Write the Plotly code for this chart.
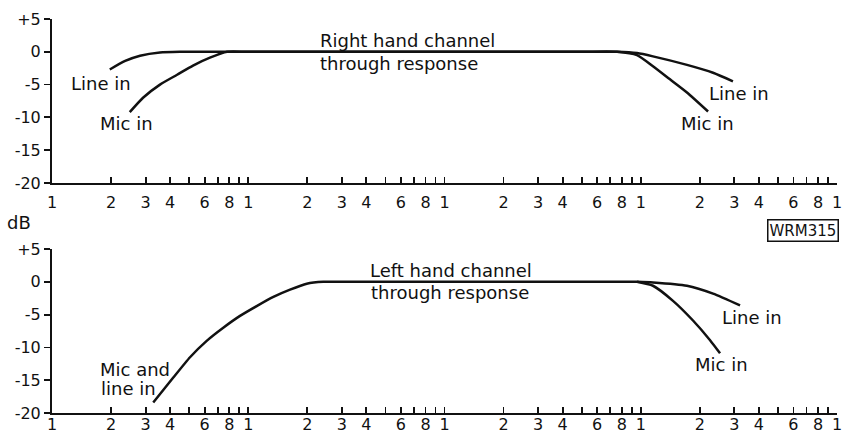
import plotly.graph_objects as go
from plotly.subplots import make_subplots

# ---------------- data (frequency in Hz, level in dB) ----------------
right_line_f = [19.7, 23.6, 28.1, 35.5, 44.9, 60, 100, 1000, 5000, 7570, 9570, 11540, 17200, 23350, 29500]
right_line_db = [-2.7, -1.4, -0.6, -0.1, 0.0, 0.0, 0.0, 0.0, 0.0, 0.0, -0.2, -0.7, -2.0, -3.2, -4.5]

right_mic_f = [24.9, 29.1, 35.5, 43.4, 52.3, 63.8, 78.0, 100, 1000, 5000, 7570, 9570, 11540, 14090, 17200, 22030]
right_mic_db = [-9.2, -7.0, -5.0, -3.5, -2.1, -0.9, 0.0, 0.0, 0.0, 0.0, 0.0, -0.5, -2.2, -4.2, -6.2, -9.1]

left_both_f = [32.8, 41.5, 50.5, 61.4, 74.6, 90.8, 110.4, 134.3, 163.3, 198.6, 241, 293, 1000, 5000, 9570]
left_both_db = [-18.4, -14.6, -11.5, -9.0, -7.0, -5.2, -3.7, -2.3, -1.2, -0.3, 0.0, 0.0, 0.0, 0.0, 0.0]

left_line_f = [9570, 11540, 17200, 23350, 32060]
left_line_db = [0.0, -0.1, -0.6, -1.8, -3.6]

left_mic_f = [9570, 11540, 14600, 18460, 22550, 25350]
left_mic_db = [0.0, -0.6, -2.9, -5.9, -8.9, -10.9]

y_tick_vals = [5, 0, -5, -10, -15, -20]
y_tick_text = ["+5", "0", "-5", "-10", "-15", "-20"]

decades = [10, 100, 1000, 10000]
mantissas = [1, 2, 3, 4, 5, 6, 7, 8, 9]
mantissa_labels = ["1", "2", "3", "4", "", "6", "", "8", ""]

x_tick_vals = [d * m for d in decades for m in mantissas] + [100000]
x_tick_text = [lab for d in decades for lab in mantissa_labels] + ["1"]

INK = "#111111"
FONT = "DejaVu Sans"

fig = make_subplots(rows=2, cols=1, vertical_spacing=0.1676)

def add(f, db, row, smoothing=0.6):
    fig.add_trace(go.Scatter(x=f, y=db, mode="lines",
                             line=dict(color=INK, width=2.5, shape="spline", smoothing=smoothing),
                             hoverinfo="skip", showlegend=False), row=row, col=1)

add(right_line_f, right_line_db, 1)
add(right_mic_f, right_mic_db, 1)
add(left_both_f, left_both_db, 2, smoothing=0.5)
add(left_line_f, left_line_db, 2)
add(left_mic_f, left_mic_db, 2)

for r, standoff in [(1, 4), (2, -4)]:
    fig.update_xaxes(type="log", range=[1, 5], tickvals=x_tick_vals, ticktext=x_tick_text,
                     ticks="inside", ticklen=6, tickwidth=1.8, tickcolor=INK,
                     showline=True, linecolor=INK, linewidth=2, showgrid=False, zeroline=False,
                     tickfont=dict(family=FONT, size=16, color=INK), automargin=False,
                     ticklabelstandoff=standoff, row=r, col=1)
    fig.update_yaxes(range=[-20, 5], tickvals=y_tick_vals, ticktext=y_tick_text,
                     ticks="outside", ticklen=6, tickwidth=1.8, tickcolor=INK,
                     showline=True, linecolor=INK, linewidth=2, showgrid=False, zeroline=False,
                     tickfont=dict(family=FONT, size=16, color=INK), automargin=False,
                     ticklabelstandoff=0, row=r, col=1)

fig.update_xaxes(domain=[0, 1])
fig.update_yaxes(domain=[0.5838, 1.0], row=1, col=1)
fig.update_yaxes(domain=[0.0, 0.4162], row=2, col=1)

W, H = 843, 434
ML, MR, MT, MB = 52, 6, 19, 21

def px(x, y, text, align="center", size=18, **kw):
    fig.add_annotation(x=(x - ML) / (W - ML - MR), y=1 - (y - MT) / (H - MT - MB),
                       xref="paper", yref="paper", text=text, showarrow=False,
                       xanchor={"center": "center", "left": "left", "right": "right"}[align],
                       yanchor="middle", align=align,
                       font=dict(family=FONT, size=size, color=INK), **kw)

# top panel labels
px(407, 40, "Right hand channel")
px(399, 63, "through response")
px(101, 83, "Line in")
px(126, 124, "Mic in")
px(739, 93, "Line in")
px(707, 123, "Mic in")

# bottom panel labels
px(451, 270, "Left hand channel")
px(450, 292, "through response")
px(98, 369, "Mic and", align="left")
px(99, 388, "line in", align="left")
px(752, 317, "Line in")
px(721, 364, "Mic in")

px(19, 222, "dB")
px(803, 230, "WRM315", size=15, bordercolor=INK, borderwidth=1.5, borderpad=1)

fig.update_layout(width=W, height=H, margin=dict(l=ML, r=MR, t=MT, b=MB, autoexpand=False),
                  paper_bgcolor="white", plot_bgcolor="white", showlegend=False)

fig.write_html("out.html", config={"displayModeBar": False, "staticPlot": True},
               post_script="document.body.style.margin='0';document.body.style.overflow='hidden';")
